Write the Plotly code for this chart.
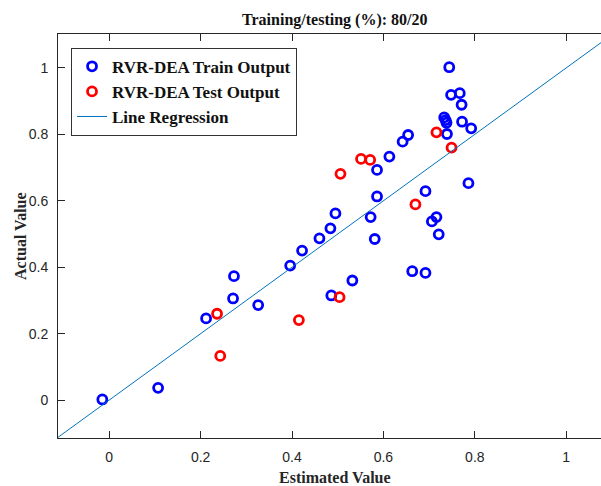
import plotly.graph_objects as go

# Train output (estimated, actual)
train_est = [-0.015, 0.107, 0.212, 0.271, 0.273, 0.326, 0.396, 0.422, 0.460, 0.484,
             0.495, 0.486, 0.532, 0.586, 0.586, 0.572, 0.581, 0.613, 0.642, 0.654,
             0.663, 0.692, 0.692, 0.706, 0.716, 0.721, 0.786, 0.744, 0.748, 0.767,
             0.771, 0.733, 0.736, 0.738, 0.772, 0.792, 0.739]
train_act = [0.002, 0.037, 0.246, 0.306, 0.373, 0.286, 0.405, 0.450, 0.487, 0.517,
             0.562, 0.315, 0.360, 0.693, 0.613, 0.551, 0.485, 0.733, 0.778, 0.798,
             0.388, 0.383, 0.629, 0.538, 0.551, 0.499, 0.653, 1.002, 0.919, 0.924,
             0.889, 0.851, 0.843, 0.835, 0.838, 0.818, 0.801]

# Test output
test_est = [0.236, 0.243, 0.415, 0.504, 0.506, 0.551, 0.571, 0.670, 0.716, 0.749]
test_act = [0.260, 0.133, 0.241, 0.310, 0.681, 0.726, 0.723, 0.589, 0.806, 0.760]

# Regression line (y = x)
reg_x = [-0.12, 1.12]
reg_y = [-0.12, 1.12]

x_ticks = [0, 0.2, 0.4, 0.6, 0.8, 1]
y_ticks = [0, 0.2, 0.4, 0.6, 0.8, 1]

serif_b = "Liberation Serif, Times New Roman, serif"
sans = "Liberation Sans, Arial, sans-serif"

fig = go.Figure()
fig.add_trace(go.Scatter(
    x=train_est, y=train_act, mode="markers", name="<b>RVR-DEA Train Output</b>", legendgroup="a",
    marker=dict(symbol="circle-open", size=9, color="#0000FF", line=dict(width=2.8, color="#0000FF"))))
fig.add_trace(go.Scatter(
    x=test_est, y=test_act, mode="markers", name="<b>RVR-DEA Test Output</b>", legendgroup="b",
    marker=dict(symbol="circle-open", size=9, color="#FF0000", line=dict(width=2.8, color="#FF0000"))))
fig.add_trace(go.Scatter(
    x=reg_x, y=reg_y, mode="lines", name="<b>Line Regression</b>", legendgroup="c",
    line=dict(color="#0072BD", width=1)))

fig.update_layout(
    width=601, height=486,
    margin=dict(l=58, r=0, t=34, b=48),
    paper_bgcolor="white", plot_bgcolor="white",
    showlegend=True,
    legend=dict(x=0.024, y=0.966, xanchor="left", yanchor="top",
                bordercolor="#333333", borderwidth=1, bgcolor="white",
                font=dict(family=serif_b, size=17, color="#111111"),
                itemwidth=30, tracegroupgap=0),
    xaxis=dict(range=[-0.112, 1.076], tickvals=x_ticks, ticktext=["0", "0.2", "0.4", "0.6", "0.8", "1"],
               showgrid=False, zeroline=False, showline=True, linecolor="#262626", linewidth=1,
               mirror="ticks", ticks="inside", ticklen=7, tickcolor="#262626",
               tickfont=dict(family=sans, size=14, color="#262626"), ticklabelstandoff=6),
    yaxis=dict(range=[-0.114, 1.102], tickvals=y_ticks, ticktext=["0", "0.2", "0.4", "0.6", "0.8", "1"],
               showgrid=False, zeroline=False, showline=True, linecolor="#262626", linewidth=1,
               mirror=False, ticks="inside", ticklen=7, tickcolor="#262626",
               tickfont=dict(family=sans, size=14, color="#262626"), ticklabelstandoff=6),
    annotations=[
        dict(text="<b>Training/testing (%): 80/20</b>", xref="paper", yref="paper", x=0.51, y=1.035,
             xanchor="center", yanchor="middle", showarrow=False,
             font=dict(family=serif_b, size=16, color="#111111")),
        dict(text="<b>Estimated Value</b>", xref="paper", yref="paper", x=0.51, y=-0.099,
             xanchor="center", yanchor="middle", showarrow=False,
             font=dict(family=serif_b, size=16, color="#262626")),
        dict(text="<b>Actual Value</b>", xref="paper", yref="paper", x=-0.07, y=0.5,
             xanchor="center", yanchor="middle", showarrow=False, textangle=-90,
             font=dict(family=serif_b, size=16, color="#262626")),
    ],
)

fig.write_html("out.html")
